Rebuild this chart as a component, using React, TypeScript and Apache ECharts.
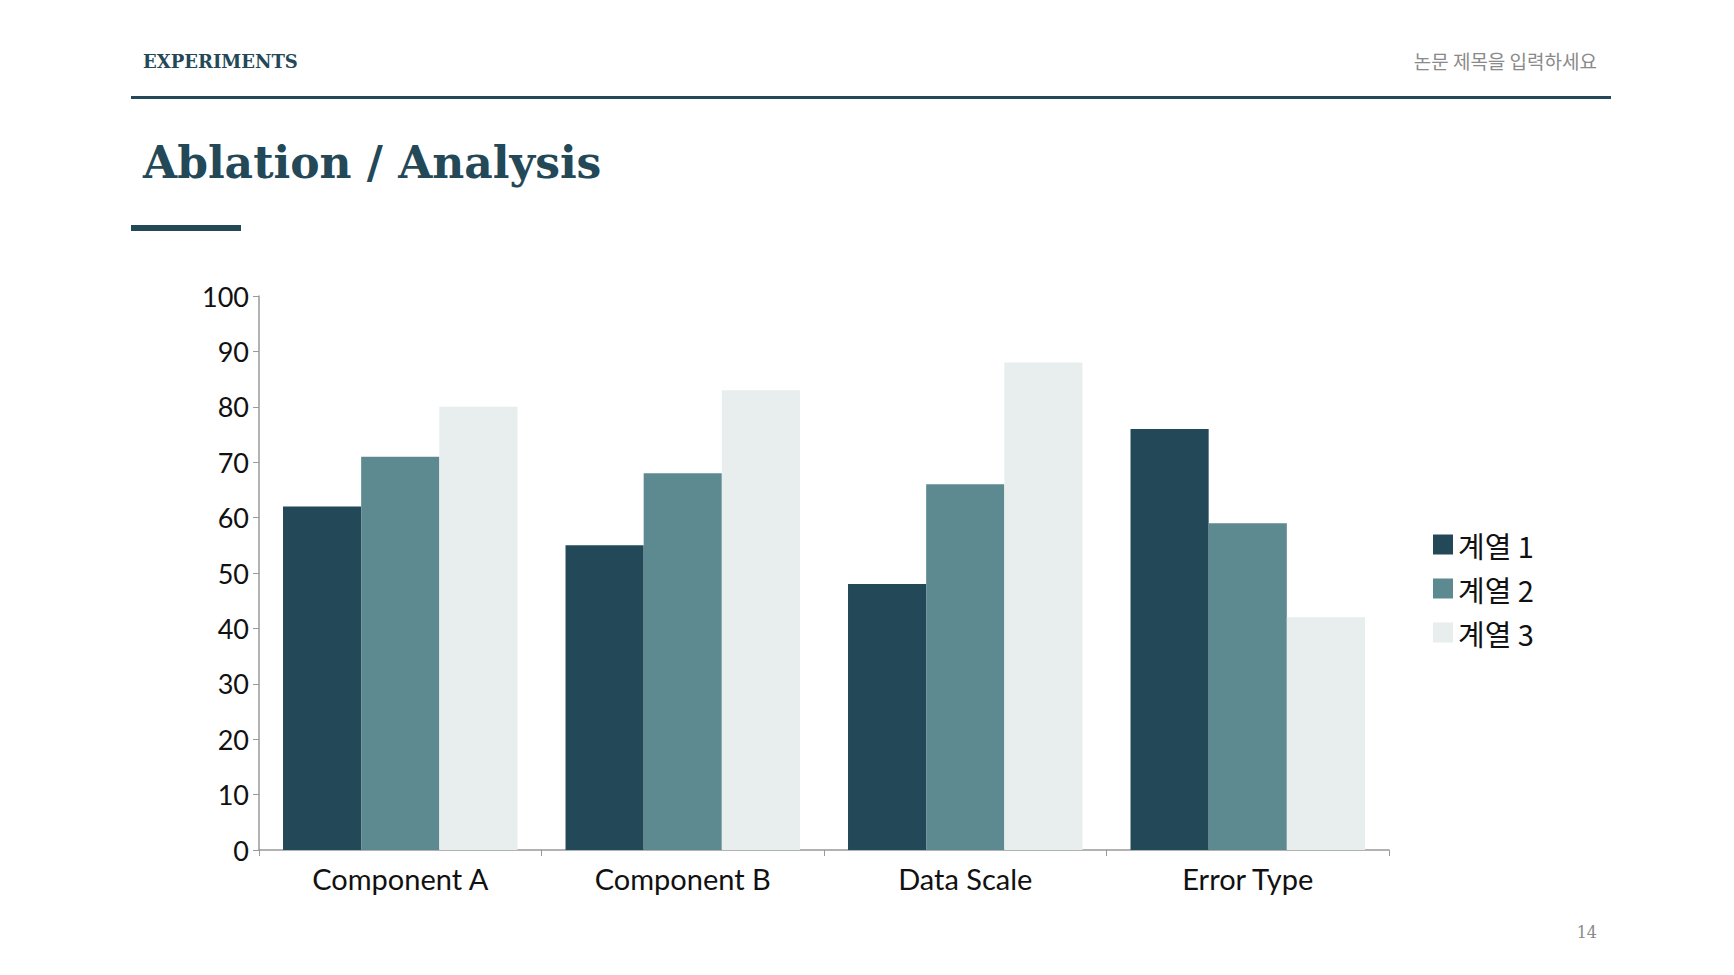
import React, { useEffect, useRef } from 'react';
import * as echarts from 'echarts';

const categories = ['Component A', 'Component B', 'Data Scale', 'Error Type'];
const seriesNames = ['계열 1', '계열 2', '계열 3'];
const series1 = [62, 55, 48, 76];
const series2 = [71, 68, 66, 59];
const series3 = [80, 83, 88, 42];
const colors = ['#234858', '#5c8a90', '#e8eded'];

const App: React.FC = () => {
  const chartRef = useRef<HTMLDivElement>(null);

  useEffect(() => {
    if (!chartRef.current) return;
    const chart = echarts.init(chartRef.current, undefined, { renderer: 'svg' });
    const values = [series1, series2, series3];

    const option: echarts.EChartsOption = {
      animation: false,
      backgroundColor: '#ffffff',
      color: colors,
      textStyle: { fontFamily: 'Lato, "Noto Sans CJK KR", sans-serif' },
      graphic: [
        {
          type: 'text', left: 143, top: 52,
          style: { text: 'EXPERIMENTS', font: 'bold 18px "DejaVu Serif", serif', fill: '#234858' },
        },
        {
          type: 'text', right: 137, top: 51,
          style: { text: '논문 제목을 입력하세요', font: '19px "Noto Sans CJK KR", sans-serif', fill: '#8a8a8a' },
        },
        { type: 'rect', shape: { x: 131, y: 96, width: 1480, height: 3 }, style: { fill: '#234858' } },
        {
          type: 'text', left: 143, top: 140,
          style: { text: 'Ablation / Analysis', font: 'bold 44px "DejaVu Serif", serif', fill: '#234858' },
        },
        { type: 'rect', shape: { x: 131, y: 225, width: 110, height: 6 }, style: { fill: '#234858' } },
        {
          type: 'text', right: 137, top: 924,
          style: { text: '14', font: '16px "DejaVu Serif", serif', fill: '#8a8a8a' },
        },
      ],
      legend: {
        orient: 'vertical',
        left: 1428,
        top: 525,
        itemWidth: 20,
        itemHeight: 20,
        itemGap: 15,
        icon: 'rect',
        textStyle: { fontSize: 29, color: '#111', fontFamily: '"Noto Sans CJK KR", sans-serif' },
        data: seriesNames,
      },
      grid: { left: 259, right: 1734 - 1389, top: 296, bottom: 975 - 850 },
      xAxis: {
        type: 'category',
        data: categories,
        axisLine: { lineStyle: { color: '#999', width: 1.5 } },
        axisTick: { show: true, length: 6, lineStyle: { color: '#999' } },
        axisLabel: { fontSize: 29, color: '#111', margin: 14 },
      },
      yAxis: {
        type: 'value',
        min: 0,
        max: 100,
        interval: 10,
        axisLine: { show: true, lineStyle: { color: '#999', width: 1.5 } },
        axisTick: { show: true, length: 6, lineStyle: { color: '#999' } },
        splitLine: { show: false },
        axisLabel: { fontSize: 27, color: '#111', margin: 10 },
      },
      series: seriesNames.map((name, i) => ({
        name,
        type: 'bar',
        data: values[i],
        barGap: '0%',
        barCategoryGap: '17%',
        itemStyle: { color: colors[i] },
      })),
    };

    chart.setOption(option);
    return () => chart.dispose();
  }, []);

  return <div ref={chartRef} style={{ position: 'fixed', left: 0, top: 0, width: 1734, height: 975 }} />;
};

export default App;
